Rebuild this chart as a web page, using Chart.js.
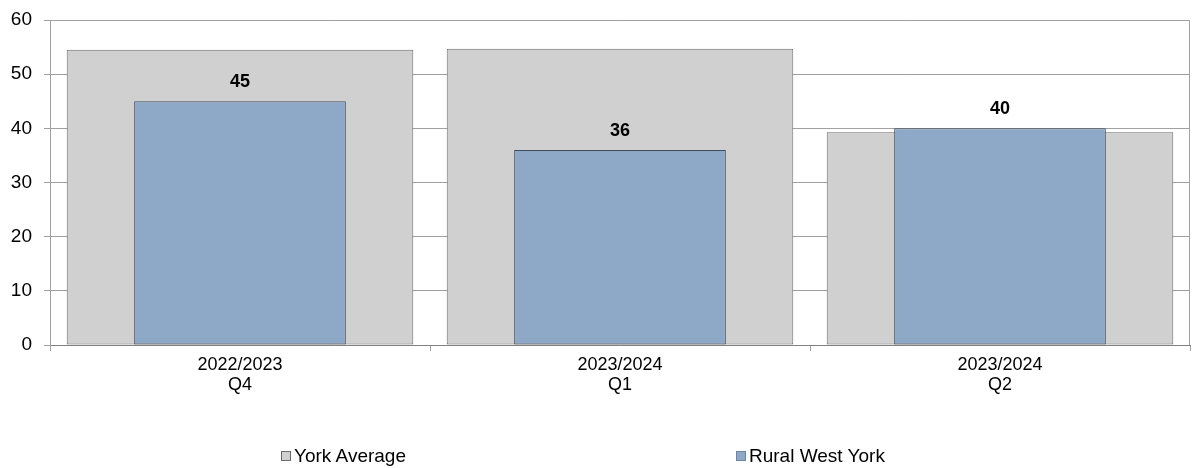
<!DOCTYPE html>
<html>
<head>
<meta charset="utf-8">
<script src="https://cdn.jsdelivr.net/npm/chart.js@4"></script>
<style>
  body { margin: 0; background: #fff; }
  #wrap { position: relative; width: 1197px; height: 468px; }
  .legend-item {
    position: absolute; top: 445px; display: flex; align-items: center;
    font: 19px "Liberation Sans", Arial, sans-serif; color: #000; white-space: nowrap;
  }
  .legend-item i { display: inline-block; width: 8px; height: 8px; margin-right: 3px; border: 1px solid #7f7f7f; }
</style>
</head>
<body>
<div id="wrap">
  <canvas id="chart" width="1197" height="468"></canvas>
  <div id="legend"></div>
</div>
<script>
const categories = [['2022/2023', 'Q4'], ['2023/2024', 'Q1'], ['2023/2024', 'Q2']];
const yorkAverage = [54.5, 54.7, 39.3];
const ruralWestYork = [45, 36, 40];
const seriesNames = ['York Average', 'Rural West York'];

const COLORS = {
  grey: '#d0d0d0',
  greyBorder: '#6a6a6a',
  blue: '#8ea9c7',
  blueBorder: '#424c58',
  grid: '#a0a0a0',
  ink: '#000'
};
const FONT = '"Liberation Sans", Arial, sans-serif';

const valueLabels = {
  id: 'valueLabels',
  afterDatasetsDraw(chart) {
    const meta = chart.getDatasetMeta(1);
    const { ctx } = chart;
    ctx.save();
    ctx.fillStyle = COLORS.ink;
    ctx.font = `700 18px ${FONT}`;
    ctx.textAlign = 'center';
    ctx.textBaseline = 'alphabetic';
    meta.data.forEach((bar, i) => {
      ctx.fillText(String(ruralWestYork[i]), bar.x, bar.y - 14);
    });
    ctx.restore();
  }
};

// right-hand edge of the plot area
const plotEdge = {
  id: 'plotEdge',
  afterDraw(chart) {
    const { ctx, chartArea } = chart;
    const x = Math.round(chartArea.right) - 0.5;
    ctx.save();
    ctx.strokeStyle = COLORS.grid;
    ctx.lineWidth = 1;
    ctx.beginPath();
    ctx.moveTo(x, chartArea.top);
    ctx.lineTo(x, chartArea.bottom);
    ctx.stroke();
    ctx.restore();
  }
};

new Chart(document.getElementById('chart'), {
  type: 'bar',
  data: {
    labels: categories,
    datasets: [
      {
        label: seriesNames[0],
        data: yorkAverage,
        backgroundColor: COLORS.grey,
        borderColor: COLORS.greyBorder,
        borderWidth: 1,
        borderSkipped: false,
        grouped: false,
        categoryPercentage: 1,
        barPercentage: 0.912,
        order: 2
      },
      {
        label: seriesNames[1],
        data: ruralWestYork,
        backgroundColor: COLORS.blue,
        borderColor: COLORS.blueBorder,
        borderWidth: 1,
        borderSkipped: false,
        grouped: false,
        categoryPercentage: 1,
        barPercentage: 0.557,
        order: 1
      }
    ]
  },
  options: {
    responsive: false,
    animation: false,
    layout: { padding: { top: 20, right: 7, bottom: 53, left: 0 } },
    plugins: {
      legend: { display: false },
      tooltip: { enabled: false }
    },
    scales: {
      x: {
        offset: true,
        afterFit(scale) { scale.height = 70; },
        grid: {
          offset: true,
          drawOnChartArea: false,
          tickColor: COLORS.grid,
          tickLength: 6
        },
        border: { color: '#808080', width: 1 },
        ticks: {
          color: COLORS.ink,
          font: { family: FONT, size: 18, lineHeight: 1.1 },
          padding: 4,
          maxRotation: 0
        }
      },
      y: {
        min: 0,
        max: 60,
        afterFit(scale) {
          scale.width = 50;
          scale.paddingTop = 0;
          scale.paddingBottom = 0;
        },
        grid: { color: COLORS.grid, tickColor: COLORS.grid, tickLength: 6 },
        border: { color: COLORS.grid },
        ticks: {
          stepSize: 10,
          color: COLORS.ink,
          font: { family: FONT, size: 19 },
          padding: 12
        }
      }
    }
  },
  plugins: [plotEdge, valueLabels]
});

const legendColors = [[COLORS.grey, COLORS.greyBorder], [COLORS.blue, '#6d85a3']];
const legendLeft = [281, 736];
const legendEl = document.getElementById('legend');
seriesNames.forEach((name, i) => {
  const item = document.createElement('div');
  item.className = 'legend-item';
  item.style.left = legendLeft[i] + 'px';
  const box = document.createElement('i');
  box.style.background = legendColors[i][0];
  box.style.borderColor = legendColors[i][1];
  item.appendChild(box);
  item.appendChild(document.createTextNode(name));
  legendEl.appendChild(item);
});
</script>
</body>
</html>
